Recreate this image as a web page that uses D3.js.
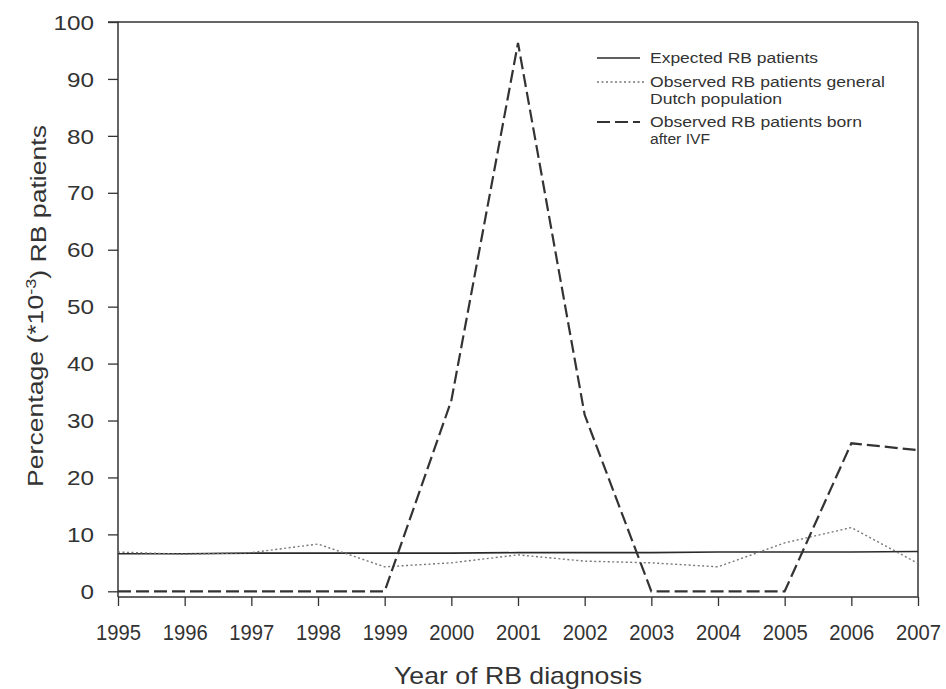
<!DOCTYPE html>
<html>
<head>
<meta charset="utf-8">
<script src="https://cdn.jsdelivr.net/npm/d3@7"></script>
<style>
  html, body { margin: 0; padding: 0; background: #fff; }
  svg { display: block; }
  text { font-family: "Liberation Sans", Arial, sans-serif; fill: #333; }
</style>
</head>
<body>
<svg id="chart" width="946" height="689"></svg>
<script>
// ---- data ----
const years = [1995, 1996, 1997, 1998, 1999, 2000, 2001, 2002, 2003, 2004, 2005, 2006, 2007];
const expected = [6.6, 6.6, 6.7, 6.7, 6.7, 6.7, 6.8, 6.8, 6.8, 6.9, 6.9, 6.9, 7.0];
const observedGeneral = [6.9, 6.5, 6.8, 8.3, 4.3, 5.0, 6.4, 5.3, 5.0, 4.3, 8.5, 11.2, 4.9];
const observedIVF = [0, 0, 0, 0, 0, 33.5, 96.3, 31, 0, 0, 0, 26, 24.8];
const yTicks = [0, 10, 20, 30, 40, 50, 60, 70, 80, 90, 100];
const seriesNames = ["Expected RB patients", "Observed RB patients general|Dutch population", "Observed RB patients born|after IVF"];

// ---- layout ----
const svg = d3.select("#chart");
const mLeft = 118, mRight = 918, mTop = 22, mBottom = 597;

const x = d3.scaleLinear().domain([1995, 2007]).range([mLeft, mRight]);
const y = d3.scaleLinear().domain([-1, 100]).range([mBottom, mTop]);

function fitWidth(sel, target) {
  sel.each(function () {
    const w = this.getComputedTextLength();
    if (w > 0) {
      this.setAttribute("textLength", target);
      this.setAttribute("lengthAdjust", "spacingAndGlyphs");
    }
  });
}

// frame (top & right)
svg.append("line").attr("x1", mLeft).attr("x2", mRight).attr("y1", mTop).attr("y2", mTop)
  .attr("stroke", "#333").attr("stroke-width", 1.5);
svg.append("line").attr("x1", mRight).attr("x2", mRight).attr("y1", mTop).attr("y2", mBottom)
  .attr("stroke", "#333").attr("stroke-width", 1.5);

// axes
const yAxis = svg.append("g").attr("transform", `translate(${mLeft},0)`)
  .call(d3.axisLeft(y).tickValues(yTicks).tickSize(10).tickPadding(14));
const xAxis = svg.append("g").attr("transform", `translate(0,${mBottom})`)
  .call(d3.axisBottom(x).tickValues(years).tickFormat(d3.format("d")).tickSize(9).tickPadding(18));

[yAxis, xAxis].forEach(a => {
  a.select(".domain").attr("stroke", "#333").attr("stroke-width", 1.5);
  a.selectAll(".tick line").attr("stroke", "#333").attr("stroke-width", 1.3);
  a.selectAll("text").attr("fill", "#333").style("font-family", '"Liberation Sans", Arial, sans-serif');
});
yAxis.select(".domain").attr("d", `M-10,${y(100)}H0V${mBottom}`);
xAxis.select(".domain").attr("d", `M${mLeft},0H${mRight}`);
yAxis.selectAll("text").style("font-size", "20px").attr("dy", "0.36em")
  .each(function (d) { d3.select(this).call(fitWidth, String(d).length * 13.5); });
xAxis.selectAll("text").style("font-size", "22px")
  .each(function () { d3.select(this).call(fitWidth, 45); });

// axis titles
const xt = svg.append("text").attr("x", (mLeft + mRight) / 2).attr("y", 684)
  .attr("text-anchor", "middle").style("font-size", "24px").text("Year of RB diagnosis");
fitWidth(xt, 248);

const yt = svg.append("text").attr("transform", "translate(43,306) rotate(-90)")
  .attr("text-anchor", "middle").style("font-size", "22px");
yt.append("tspan").text("Percentage (*10");
yt.append("tspan").attr("dy", "-0.45em").style("font-size", "15px").text("-3");
yt.append("tspan").attr("dy", "0.45em").text(") RB patients");
fitWidth(yt, 362);

// lines
const lineGen = d3.line().x((d, i) => x(years[i])).y(d => y(d));
const styles = [
  { data: expected, stroke: "#2a2a2a", width: 1.6, dash: null },
  { data: observedGeneral, stroke: "#777", width: 1.4, dash: "2,2.5" },
  { data: observedIVF, stroke: "#333", width: 2.2, dash: "13,5" }
];
svg.append("g").selectAll("path").data(styles).join("path")
  .attr("d", s => lineGen(s.data))
  .attr("fill", "none")
  .attr("stroke", s => s.stroke)
  .attr("stroke-width", s => s.width)
  .attr("stroke-dasharray", s => s.dash);

// legend
const legend = svg.append("g");
const legendRows = [58, 82, 122];
const textWidths = [[168], [235, 132], [212, 60]];
seriesNames.forEach((name, i) => {
  const s = styles[i];
  const yy = legendRows[i];
  legend.append("line").attr("x1", 597).attr("x2", i === 1 ? 646 : 640)
    .attr("y1", yy).attr("y2", yy)
    .attr("stroke", s.stroke).attr("stroke-width", s.width).attr("stroke-dasharray", s.dash);
  name.split("|").forEach((part, j) => {
    const t = legend.append("text").attr("x", 650).attr("y", yy + 5 + j * 17)
      .style("font-size", "15.5px").attr("fill", "#444").text(part);
    fitWidth(t, textWidths[i][j]);
  });
});
</script>
</body>
</html>
